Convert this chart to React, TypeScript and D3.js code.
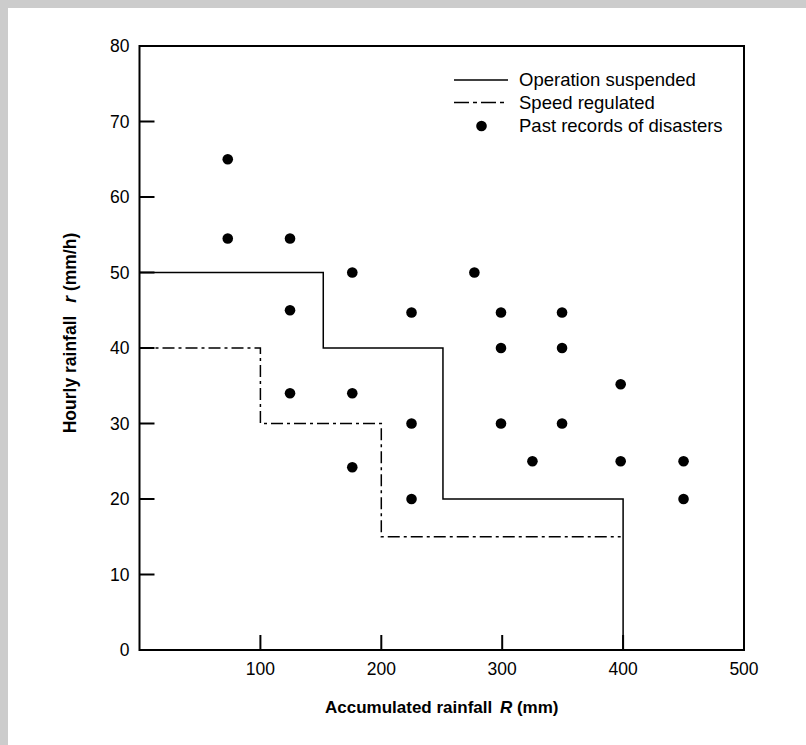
import React from 'react';
import * as d3 from 'd3';

// step lines: [accumulated R, hourly r]
const suspendedSteps: [number, number][] = [[0, 50], [152, 40], [251, 20], [400, 0]];
const regulatedSteps: [number, number][] = [[0, 40], [100, 30], [200, 15], [398, 15]];

// past disaster records
const disasterR = [73, 73, 124.5, 124.5, 124.5, 176, 176, 176, 225, 225, 225, 277, 299, 299, 299, 325, 349.5, 349.5, 349.5, 398, 398, 450, 450];
const disasterr = [65, 54.5, 54.5, 45, 34, 50, 34, 24.2, 44.7, 30, 20, 50, 44.7, 40, 30, 25, 44.7, 40, 30, 35.2, 25, 25, 20];

const xTicks = [100, 200, 300, 400];
const xLabels = [100, 200, 300, 400, 500];
const yTicks = [10, 20, 30, 40, 50, 60, 70];
const yLabels = [0, 10, 20, 30, 40, 50, 60, 70, 80];

const legendItems = ['Operation suspended', 'Speed regulated', 'Past records of disasters'];

const FONT = '"Liberation Sans", Arial, Helvetica, sans-serif';
const DASH = '12,4,3,4';

export default function App() {
  const width = 806;
  const height = 745;
  const left = 139.5;
  const right = 744;
  const top = 46;
  const bottom = 650;

  const x = d3.scaleLinear().domain([0, 500]).range([left, right]);
  const y = d3.scaleLinear().domain([0, 80]).range([bottom, top]);

  const line = d3.line<[number, number]>()
    .x(d => x(d[0]))
    .y(d => y(d[1]))
    .curve(d3.curveStepAfter);

  const points = disasterR.map((R, i) => ({ R, r: disasterr[i] }));

  const legX = 454;
  const legRows = [80, 102.5, 126];

  return (
    <svg width={width} height={height} style={{ position: 'absolute', left: 0, top: 0 }} fontFamily={FONT}>
      <rect x={0} y={0} width={width} height={height} fill="#cccccc" />
      <rect x={8} y={8} width={width - 8} height={height - 8} fill="#ffffff" />

      {/* step lines */}
      <path d={line(regulatedSteps) || ''} fill="none" stroke="#000" strokeWidth={1.5} strokeDasharray={DASH} />
      <path d={line(suspendedSteps) || ''} fill="none" stroke="#000" strokeWidth={1.5} />

      {/* frame */}
      <rect x={left} y={top} width={right - left} height={bottom - top} fill="none" stroke="#000" strokeWidth={2} />

      {/* ticks */}
      {xTicks.map(t => (
        <line key={'xt' + t} x1={x(t)} x2={x(t)} y1={bottom} y2={bottom - 15} stroke="#000" strokeWidth={2} />
      ))}
      {yTicks.map(t => (
        <line key={'yt' + t} x1={left} x2={left + 15} y1={y(t)} y2={y(t)} stroke="#000" strokeWidth={2} />
      ))}
      {xLabels.map(t => (
        <text key={'xl' + t} x={x(t)} y={bottom + 25} textAnchor="middle" fontSize={17.5}>{t}</text>
      ))}
      {yLabels.map(t => (
        <text key={'yl' + t} x={left - 10} y={y(t)} dy="0.35em" textAnchor="end" fontSize={17.5}>{t}</text>
      ))}

      {/* axis titles */}
      <text x={(left + right) / 2} y={713} textAnchor="middle" fontSize={17} fontWeight="bold">
        Accumulated rainfall <tspan dx={3} fontStyle="italic">R</tspan> (mm)
      </text>
      <text transform="translate(76,333) rotate(-90)" textAnchor="middle" fontSize={17.5} fontWeight="bold">
        Hourly rainfall <tspan dx={8} fontStyle="italic">r</tspan> (mm/h)
      </text>

      {/* points */}
      {points.map((p, i) => (
        <circle key={i} cx={x(p.R)} cy={y(p.r)} r={5.3} fill="#000" />
      ))}

      {/* legend */}
      <line x1={legX} x2={legX + 54} y1={legRows[0]} y2={legRows[0]} stroke="#000" strokeWidth={1.5} />
      <line x1={legX} x2={legX + 54} y1={legRows[1]} y2={legRows[1]} stroke="#000" strokeWidth={1.5} strokeDasharray="15,4,4,4" />
      <circle cx={legX + 27.5} cy={legRows[2]} r={5.3} fill="#000" />
      {legendItems.map((t, i) => (
        <text key={t} x={519} y={legRows[i]} dy="0.35em" fontSize={18.5}>{t}</text>
      ))}
    </svg>
  );
}
